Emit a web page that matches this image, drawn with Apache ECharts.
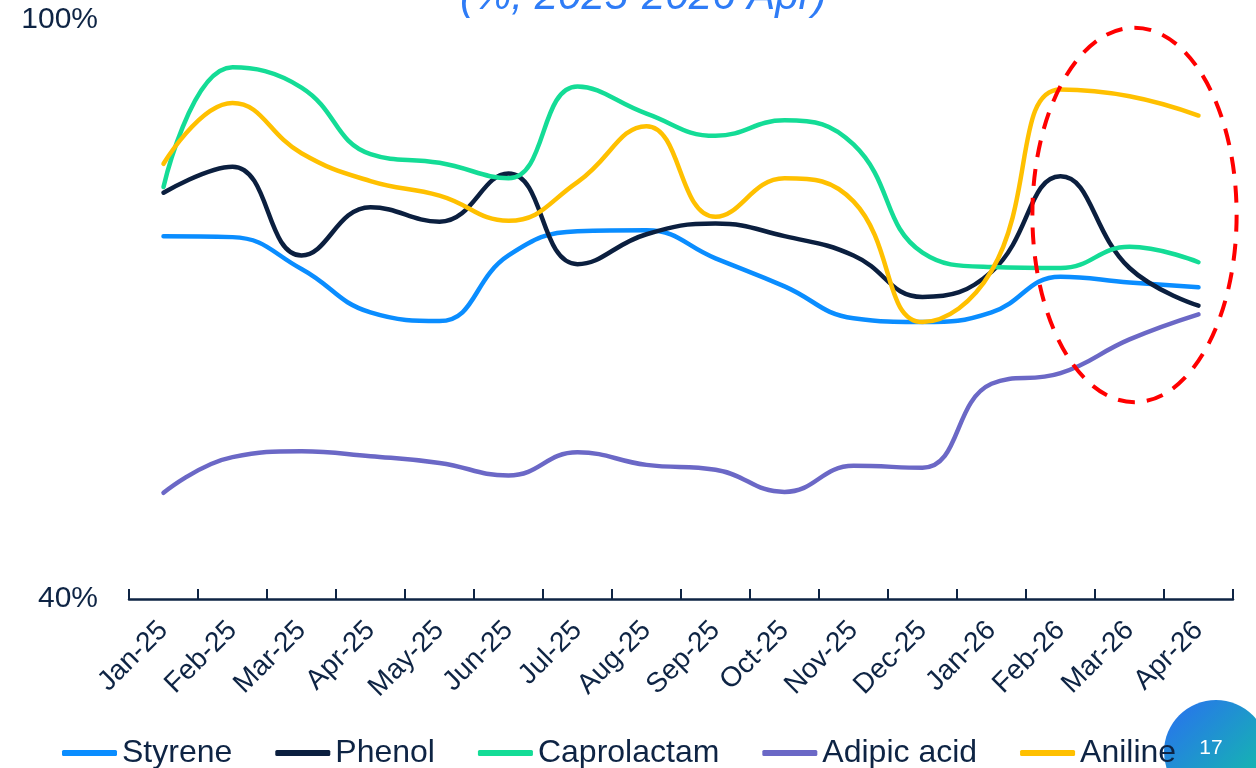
<!DOCTYPE html>
<html>
<head>
<meta charset="utf-8">
<title>Operating rate</title>
<script src="https://cdn.jsdelivr.net/npm/echarts@6/dist/echarts.min.js"></script>
<style>
    html, body { margin: 0; padding: 0; background: #ffffff; }
    #main { width: 1256px; height: 768px; }
</style>
</head>
<body>
<div id="main"></div>
<script>
//月份
var months = ['Jan-25', 'Feb-25', 'Mar-25', 'Apr-25', 'May-25', 'Jun-25', 'Jul-25', 'Aug-25',
    'Sep-25', 'Oct-25', 'Nov-25', 'Dec-25', 'Jan-26', 'Feb-26', 'Mar-26', 'Apr-26'];

//各产品开工率 (%)
var styrene = [77.6, 77.5, 74.2, 69.7, 68.8, 75.6, 78.1, 78.2, 75.3, 72.4, 69.1, 68.7, 69.7, 73.4, 72.8, 72.3];
var phenol = [82.1, 84.8, 75.6, 80.6, 79.1, 84.1, 74.7, 77.8, 78.9, 77.6, 75.6, 71.3, 73.9, 83.8, 74.3, 70.4];
var caprolactam = [82.7, 95.1, 93.0, 86.1, 85.2, 83.6, 93.1, 90.3, 88.0, 89.6, 87.1, 75.9, 74.4, 74.3, 76.5, 74.9];
var adipicAcid = [51.0, 54.7, 55.3, 54.8, 54.1, 52.8, 55.2, 53.9, 53.4, 51.1, 53.8, 53.6, 62.3, 63.4, 66.9, 69.5];
var aniline = [85.1, 91.4, 86.2, 83.3, 81.8, 79.2, 83.2, 89.0, 79.6, 83.6, 81.2, 68.7, 74.0, 92.8, 92.1, 90.1];

//y轴刻度
var yMin = 40;
var yMax = 100;

var seriesNames = ['Styrene', 'Phenol', 'Caprolactam', 'Adipic acid', 'Aniline'];
var seriesData = [styrene, phenol, caprolactam, adipicAcid, aniline];
var colors = ['#0a8dff', '#0b1f3f', '#14dc96', '#6b68c6', '#ffc000'];

var fontName = "'Liberation Sans', Arial, sans-serif";
var darkText = '#0e2444';

function makeSeries() {
    var list = [];
    for (var i = 0; i < seriesNames.length; i++) {
        list.push({
            name: seriesNames[i],
            type: 'line',
            data: seriesData[i],
            smooth: 0.45,
            showSymbol: false,
            symbol: 'none',
            lineStyle: {
                width: 4.5,
                color: colors[i],
                cap: 'round',
                join: 'round'
            },
            itemStyle: {color: colors[i]}
        });
    }
    return list;
}

var option = {
    animation: false,
    backgroundColor: '#ffffff',
    color: colors,
    textStyle: {fontFamily: fontName},
    title: {
        text: '(%, 2025-2026 Apr)',
        left: 455,
        top: -29,
        textStyle: {
            fontFamily: fontName,
            fontStyle: 'italic',
            fontWeight: 'normal',
            fontSize: 42,
            color: '#2f7cf6'
        }
    },
    grid: {
        left: 129,
        right: 23,
        top: 20,
        bottom: 169,
        containLabel: false
    },
    legend: {
        data: seriesNames,
        left: 62,
        top: 737,
        padding: 0,
        itemGap: 43,
        itemWidth: 55,
        itemHeight: 6,
        icon: 'roundRect',
        textStyle: {
            fontFamily: fontName,
            fontSize: 32,
            color: darkText
        }
    },
    xAxis: {
        type: 'category',
        data: months,
        boundaryGap: true,
        axisLine: {
            lineStyle: {color: darkText, width: 2.5}
        },
        axisTick: {
            show: true,
            inside: true,
            length: 10,
            alignWithLabel: false,
            lineStyle: {color: darkText, width: 2}
        },
        axisLabel: {
            interval: 0,
            rotate: 45,
            margin: 27,
            fontSize: 28,
            color: darkText,
            fontFamily: fontName
        },
        splitLine: {show: false}
    },
    yAxis: {
        type: 'value',
        min: yMin,
        max: yMax,
        interval: yMax - yMin,
        axisLine: {show: false},
        axisTick: {show: false},
        splitLine: {show: false},
        axisLabel: {
            formatter: '{value}%',
            fontSize: 30,
            margin: 31,
            color: darkText,
            fontFamily: fontName
        }
    },
    series: makeSeries()
};

var myChart = echarts.init(document.getElementById('main'));
myChart.setOption(option);

//红色虚线椭圆：圈出 Feb-26 ~ Apr-26，位置由坐标轴换算
var pMid = myChart.convertToPixel({gridIndex: 0}, ['Mar-26', 79.8]);
var pEnd = myChart.convertToPixel({gridIndex: 0}, ['Apr-26', 99.2]);
var pLow = myChart.convertToPixel({gridIndex: 0}, ['Apr-26', 60.4]);
var step = pEnd[0] - pMid[0];

myChart.setOption({
    graphic: [
        {
            //页码圆
            type: 'circle',
            z: 0,
            zlevel: 0,
            shape: {cx: 1216, cy: 752, r: 52},
            style: {
                fill: new echarts.graphic.LinearGradient(0, 0, 1, 1, [
                    {offset: 0, color: '#2a6ef2'},
                    {offset: 1, color: '#10c7a0'}
                ])
            },
            silent: true
        },
        {
            type: 'text',
            z: 1,
            x: 1211,
            y: 748,
            style: {
                text: '17',
                fill: '#ffffff',
                fontSize: 21,
                fontFamily: fontName,
                align: 'center',
                verticalAlign: 'middle'
            },
            silent: true
        },
        {
            type: 'ellipse',
            z: 100,
            shape: {
                cx: pMid[0] + 5,
                cy: pMid[1],
                rx: step * 1.48,
                ry: (pLow[1] - pEnd[1]) / 2
            },
            style: {
                fill: 'none',
                stroke: '#ff0000',
                lineWidth: 4,
                lineDash: [17, 12]
            },
            silent: true
        }
    ]
});
</script>
</body>
</html>
